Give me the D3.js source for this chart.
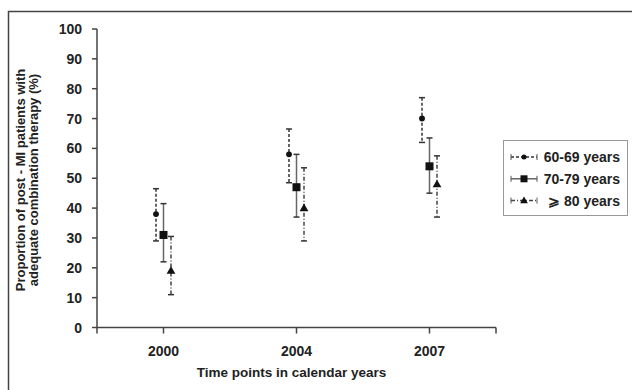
<!DOCTYPE html>
<html>
<head>
<meta charset="utf-8">
<script src="https://cdn.jsdelivr.net/npm/d3@7"></script>
<style>
  html, body { margin: 0; padding: 0; background: #fff; }
  svg { display: block; font-family: "Liberation Sans", Arial, sans-serif; }
  .tick-label { font-size: 14px; font-weight: bold; fill: #222; }
  .axis-title { font-size: 13.5px; font-weight: bold; fill: #222; }
  .axis-title.y-title { font-size: 13px; }
  .legend-text { font-size: 14px; font-weight: bold; fill: #222; }
</style>
</head>
<body>
<div id="chart"></div>
<script>
/* post-MI combination therapy by age group — means with 95% CI */
const YEARS = ['2000', '2004', '2007'];
const GROUPS = ['60-69 years', '70-79 years', '\u2A7E 80 years'];
const MEAN_60 = [38, 58, 70];
const LO_60 = [29, 48.5, 62];
const HI_60 = [46.5, 66.5, 77];
const MEAN_70 = [31, 47, 54];
const LO_70 = [22, 37, 45];
const HI_70 = [41.5, 58, 63.5];
const MEAN_80 = [19, 40, 48];
const LO_80 = [11, 29, 37];
const HI_80 = [30.5, 53.5, 57.5];
const Y_TICKS = [0, 10, 20, 30, 40, 50, 60, 70, 80, 90, 100];

const W = 632, H = 390;
const M = { left: 97, right: 136, top: 29, bottom: 62 };

const series = [
  { name: GROUPS[0], mean: MEAN_60, lo: LO_60, hi: HI_60, dash: '3,2', shape: 'circle', off: -7.5, stroke: '#333' },
  { name: GROUPS[1], mean: MEAN_70, lo: LO_70, hi: HI_70, dash: null, shape: 'square', off: 0, stroke: '#666' },
  { name: GROUPS[2], mean: MEAN_80, lo: LO_80, hi: HI_80, dash: '4,2,1,2', shape: 'triangle', off: 7.5, stroke: '#444' }
];

const svg = d3.select('#chart').append('svg')
  .attr('width', W).attr('height', H);

/* outer frame — only top and left edges fall inside the picture */
svg.append('rect')
  .attr('x', 8.5).attr('y', 11.5).attr('width', W + 20).attr('height', H + 20)
  .attr('fill', 'none').attr('stroke', '#444').attr('stroke-width', 1.5);

const x = d3.scalePoint().domain(YEARS).range([M.left, W - M.right]).padding(0.5);
const y = d3.scaleLinear().domain([0, 100]).range([H - M.bottom - 0.5, M.top]);
const x0 = M.left, x1 = W - M.right;
const yBase = y(0);

/* y axis */
svg.append('line').attr('x1', x0).attr('x2', x0).attr('y1', y(100)).attr('y2', yBase)
  .attr('stroke', '#444').attr('stroke-width', 1.5);
svg.append('g').selectAll('line').data(Y_TICKS).join('line')
  .attr('x1', x0 - 5).attr('x2', x0).attr('y1', (d) => y(d)).attr('y2', (d) => y(d))
  .attr('stroke', '#444').attr('stroke-width', 1.5);
svg.append('g').selectAll('text').data(Y_TICKS).join('text')
  .attr('class', 'tick-label')
  .attr('x', x0 - 15).attr('y', (d) => y(d) + 5)
  .attr('text-anchor', 'end')
  .text((d) => d);

/* x axis — ticks at category centres plus both ends */
svg.append('line').attr('x1', x0 - 1).attr('x2', x1).attr('y1', yBase).attr('y2', yBase)
  .attr('stroke', '#444').attr('stroke-width', 1.5);
const xt = [x0].concat(YEARS.map((d) => x(d)), [x1]);
svg.append('g').selectAll('line').data(xt).join('line')
  .attr('x1', (d) => d).attr('x2', (d) => d).attr('y1', yBase).attr('y2', yBase + 6)
  .attr('stroke', '#444').attr('stroke-width', 1.5);
svg.append('g').selectAll('text').data(YEARS).join('text')
  .attr('class', 'tick-label')
  .attr('x', (d) => x(d)).attr('y', yBase + 28)
  .attr('text-anchor', 'middle')
  .text((d) => d);

svg.append('text').attr('class', 'axis-title')
  .attr('x', (x0 + x1) / 2 - 5).attr('y', 377)
  .attr('text-anchor', 'middle')
  .text('Time points in calendar years');

const yt = svg.append('text').attr('class', 'axis-title y-title')
  .attr('transform', 'translate(25,180) rotate(-90)')
  .attr('text-anchor', 'middle');
yt.append('tspan').attr('x', 0).attr('dy', 0).text('Proportion of post - MI patients with');
yt.append('tspan').attr('x', 0).attr('dy', 13).text('adequate combination therapy (%)');

/* markers */
function marker(g, shape, cx, cy, s) {
  if (shape === 'circle') {
    g.append('circle').attr('cx', cx).attr('cy', cy).attr('r', s * 0.42).attr('fill', '#111');
  } else if (shape === 'square') {
    g.append('rect').attr('x', cx - s / 2).attr('y', cy - s / 2).attr('width', s).attr('height', s).attr('fill', '#111');
  } else {
    const h = s * 0.95;
    g.append('path')
      .attr('d', `M${cx},${cy - h * 0.6}L${cx + s * 0.55},${cy + h * 0.4}L${cx - s * 0.55},${cy + h * 0.4}Z`)
      .attr('fill', '#111');
  }
}

/* error bars */
series.forEach((s) => {
  const g = svg.append('g');
  YEARS.forEach((yr, i) => {
    const cx = x(yr) + s.off;
    g.append('line')
      .attr('x1', cx).attr('x2', cx).attr('y1', y(s.hi[i])).attr('y2', y(s.lo[i]))
      .attr('stroke', s.stroke).attr('stroke-width', 1.5)
      .attr('stroke-dasharray', s.dash);
    [s.hi[i], s.lo[i]].forEach((v) => {
      g.append('line')
        .attr('x1', cx - 3).attr('x2', cx + 3).attr('y1', y(v)).attr('y2', y(v))
        .attr('stroke', '#333').attr('stroke-width', 1.5);
    });
    marker(g, s.shape, cx, y(s.mean[i]), s.shape === 'circle' ? 7 : 8);
  });
});

/* legend */
const lg = svg.append('g');
lg.append('rect').attr('x', 503.5).attr('y', 140.5).attr('width', 124).attr('height', 75)
  .attr('fill', '#fff').attr('stroke', '#999').attr('stroke-width', 1);
series.forEach((s, i) => {
  const ly = 157 + i * 21.8;
  const a = 511, b = 537;
  lg.append('line').attr('x1', a).attr('x2', b).attr('y1', ly).attr('y2', ly)
    .attr('stroke', s.stroke).attr('stroke-width', 1.5).attr('stroke-dasharray', s.dash);
  [a, b].forEach((px) => {
    lg.append('line').attr('x1', px).attr('x2', px).attr('y1', ly - 3).attr('y2', ly + 3)
      .attr('stroke', '#555').attr('stroke-width', 1);
  });
  marker(lg, s.shape, (a + b) / 2, ly, s.shape === 'circle' ? 6 : 7);
  lg.append('text').attr('class', 'legend-text')
    .attr('x', 620).attr('y', ly + 5)
    .attr('text-anchor', 'end')
    .text(s.name);
});
</script>
</body>
</html>
